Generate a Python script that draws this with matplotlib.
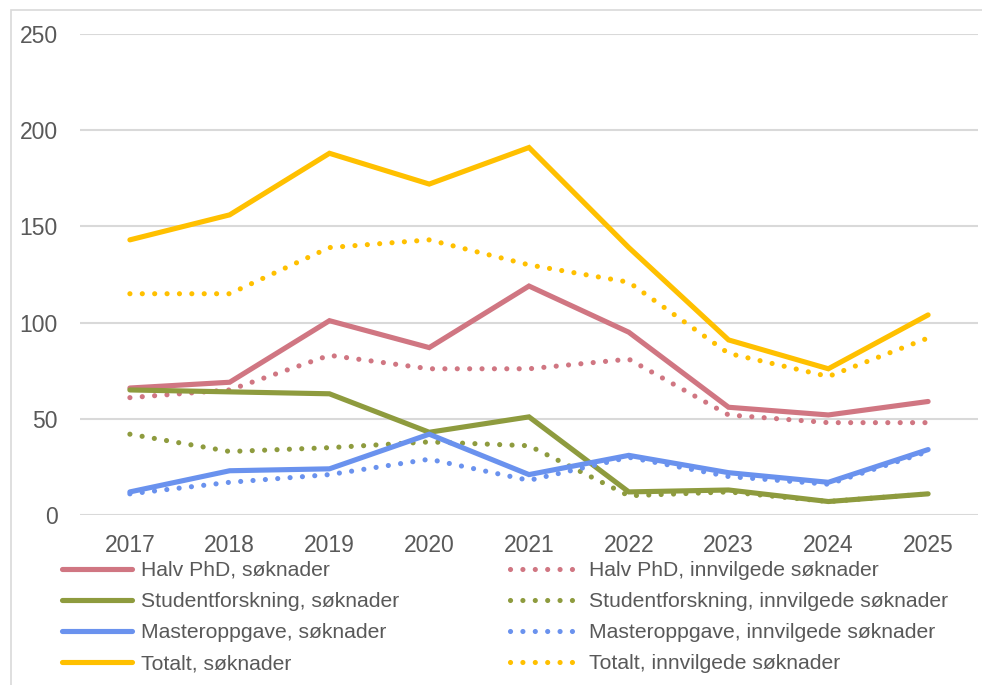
import matplotlib
matplotlib.use("Agg")
import matplotlib.pyplot as plt
from matplotlib.patches import Rectangle

plt.rcParams['font.family'] = ['Liberation Sans', 'DejaVu Sans']

years = ["2017", "2018", "2019", "2020", "2021", "2022", "2023", "2024", "2025"]

halv_sok = [66, 69, 101, 87, 119, 95, 56, 52, 59]
halv_innv = [61, 65, 83, 76, 76, 81, 52, 48, 48]
student_sok = [65, 64, 63, 43, 51, 12, 13, 7, 11]
student_innv = [42, 33, 35, 38, 36, 10, 12, 7, 11]
master_sok = [12, 23, 24, 42, 21, 31, 22, 17, 34]
master_innv = [11, 17, 21, 29, 18, 30, 20, 16, 33]
totalt_sok = [143, 156, 188, 172, 191, 139, 91, 76, 104]
totalt_innv = [115, 115, 139, 143, 130, 121, 84, 72, 92]

names = ["Halv PhD", "Studentforskning", "Masteroppgave", "Totalt"]
colors = ["#D07682", "#8E9B3E", "#6A92EE", "#FFC000"]
sok = [halv_sok, student_sok, master_sok, totalt_sok]
innv = [halv_innv, student_innv, master_innv, totalt_innv]

fig = plt.figure(figsize=(9.82, 6.85), dpi=100)
ax = fig.add_axes([80/982, 1-515/685, 898/982, 481/685])

x = list(range(len(years)))
lw = 3.7
solid_handles, dot_handles = [], []
for name, c, s, i in zip(names, colors, sok, innv):
    h1, = ax.plot(x, s, color=c, lw=lw, solid_capstyle='round', solid_joinstyle='miter',
                  label=f"{name}, søknader", zorder=3)
    h2, = ax.plot(x, i, color=c, lw=lw, linestyle=(0, (0.01, 2.4)), dash_capstyle='round',
                  label=f"{name}, innvilgede søknader", zorder=3)
    solid_handles.append(h1)
    dot_handles.append(h2)

ax.set_xlim(-0.5, len(years) - 0.5)
ax.set_ylim(0, 250)
ax.set_yticks([0, 50, 100, 150, 200, 250])
ax.set_xticks(x)
ax.set_xticklabels(years)
ax.grid(axis='y', color='#D9D9D9', lw=1.5, zorder=0)
ax.set_axisbelow(True)
for sp in ax.spines.values():
    sp.set_visible(False)
ax.tick_params(axis='both', length=0, labelsize=16.5, labelcolor='#595959')
ax.tick_params(axis='y', pad=16)
ax.tick_params(axis='x', pad=14)

leg = fig.legend(solid_handles + dot_handles,
                 [h.get_label() for h in solid_handles + dot_handles],
                 ncol=2, loc='upper left', bbox_to_anchor=(62/982, 1-561/685),
                 frameon=False, fontsize=15.2, handlelength=3.3, handletextpad=0.45,
                 columnspacing=5.25, labelspacing=0.57, borderpad=0, borderaxespad=0,
                 labelcolor='#595959')

fig.patches.append(Rectangle((11/982, -0.1), 1.2, 1 - 10/685 + 0.1, transform=fig.transFigure,
                             fill=False, edgecolor='#D9D9D9', lw=1.2, clip_on=False))

fig.savefig("out.png", dpi=100)
